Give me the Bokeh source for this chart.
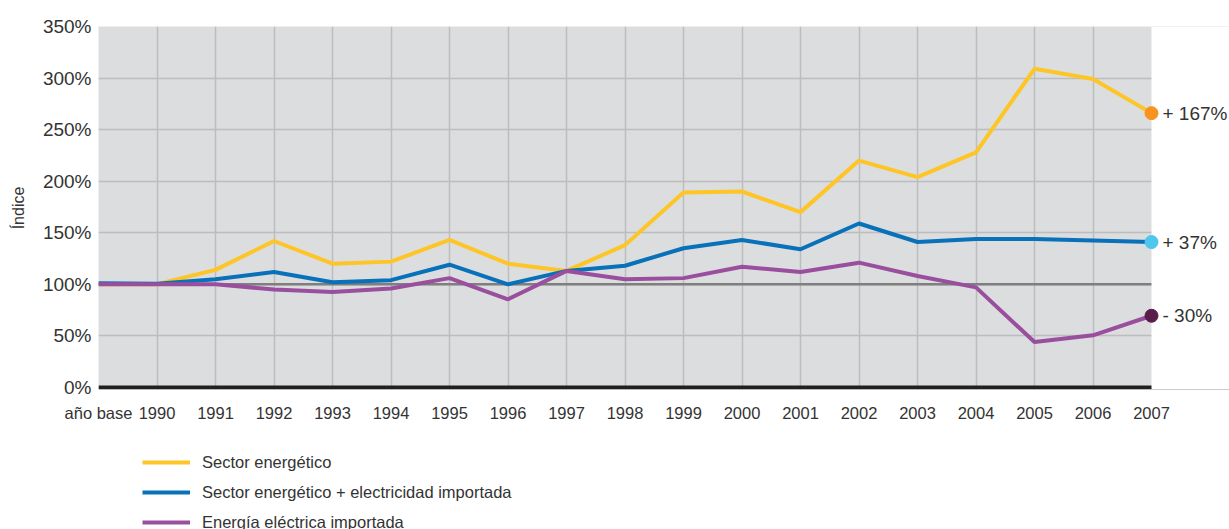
from bokeh.plotting import figure
from bokeh.layouts import column
from bokeh.models import (Range1d, FixedTicker, Span, Legend, LegendItem,
                          LabelSet, ColumnDataSource, BoxAnnotation)
from bokeh.core.properties import value
from bokeh.embed import file_html
from bokeh.resources import INLINE

# ---------------- data ----------------
years = ["año base", "1990", "1991", "1992", "1993", "1994", "1995", "1996",
         "1997", "1998", "1999", "2000", "2001", "2002", "2003", "2004",
         "2005", "2006", "2007"]
sector = [100, 100, 114, 142, 120, 122, 143, 120, 113, 138, 189, 190, 170,
          220, 204, 228, 309, 299, 266]
sector_import = [101, 100.5, 105, 112, 102, 104, 119, 100, 113, 118, 135,
                 143, 134, 159, 141, 144, 144, 142.5, 141]
electric = [100, 100, 100, 95, 92.5, 96, 106, 85.5, 113, 105, 106, 117, 112,
            121, 108, 97, 44, 50.5, 69.5]
y_ticks = [0, 50, 100, 150, 200, 250, 300, 350]
y_tick_labels = ["0%", "50%", "100%", "150%", "200%", "250%", "300%", "350%"]
series_names = ["Sector energético",
                "Sector energético + electricidad importada",
                "Energía eléctrica importada"]
end_labels = ["+ 167%", "+ 37%", "- 30%"]

line_colors = ["#FEC526", "#0871B9", "#9A4E9E"]
dot_colors = ["#F7931E", "#4FC6EE", "#5A1C4A"]
FONT = "Liberation Sans"
TXT = "#333333"

series = [sector, sector_import, electric]
x = list(range(len(years)))
last = len(years) - 1

# layout (pixels)
W = 1229
H1, H2 = 424, 105
LEFT, TOP, BOTTOM = 98, 26, 35
DATA_W = 1053                       # width of the grey chart area
frame_w = W - LEFT
x_end = last * frame_w / DATA_W     # extra room right of 2007 for labels

p = figure(width=W, height=H1, output_backend="svg", toolbar_location=None,
           x_range=Range1d(0, x_end), y_range=Range1d(-2, 350),
           min_border_left=LEFT, min_border_right=0, min_border_top=TOP,
           min_border_bottom=BOTTOM)
p.background_fill_color = "#DCDDDF"
p.border_fill_color = "white"
p.outline_line_color = None

# axes
p.xaxis.ticker = FixedTicker(ticks=x)
p.xaxis.major_label_overrides = {i: t for i, t in zip(x, years)}
p.yaxis.ticker = FixedTicker(ticks=y_ticks)
p.yaxis.major_label_overrides = {v: t for v, t in zip(y_ticks, y_tick_labels)}
for ax in (p.xaxis, p.yaxis):
    ax.axis_line_color = None
    ax.major_tick_line_color = None
    ax.minor_tick_line_color = None
    ax.major_label_text_font = FONT
    ax.major_label_text_color = TXT
p.xaxis.major_label_text_font_size = "16.5px"
p.yaxis.major_label_text_font_size = "19px"
p.xaxis.major_label_standoff = 8
p.yaxis.major_label_standoff = 1
p.yaxis.axis_label = "Índice"
p.yaxis.axis_label_text_font = FONT
p.yaxis.axis_label_text_font_size = "16px"
p.yaxis.axis_label_text_font_style = "normal"
p.yaxis.axis_label_text_color = TXT
p.yaxis.axis_label_standoff = 13

# grid
p.xgrid.ticker = FixedTicker(ticks=x[1:-1])
p.ygrid.ticker = FixedTicker(ticks=y_ticks[1:])
p.grid.grid_line_color = "#BCBDBF"
p.grid.grid_line_width = 1.5

# reference lines
p.add_layout(Span(location=100, dimension="width", line_color="#7F7F7F",
                  line_width=2.5, level="underlay"))
p.add_layout(Span(location=0, dimension="width", line_color="#231F20",
                  line_width=4, level="underlay"))
# white area right of the last year (for the end labels)
p.add_layout(BoxAnnotation(left=last, fill_color="white", fill_alpha=1,
                           line_color=None, level="underlay"))

# series
for ys, c in zip(series, line_colors):
    p.line(x, ys, line_color=c, line_width=4)

end_src = ColumnDataSource(dict(
    x=[last] * 3,
    y=[s[last] for s in series],
    c=dot_colors, t=end_labels))
p.scatter("x", "y", source=end_src, size=13, fill_color="c", line_color="c")
p.add_layout(LabelSet(x="x", y="y", text="t", source=end_src, x_offset=11,
                      text_baseline="middle", text_font=value(FONT),
                      text_font_size="19px", text_color=TXT))

# ---------- legend panel (same series, outside its visible range) ----------
p2 = figure(width=W, height=H2, output_backend="svg", toolbar_location=None,
            x_axis_type=None, y_axis_type=None,
            x_range=Range1d(0, 1), y_range=Range1d(1000, 1001),
            min_border=0)
p2.outline_line_color = None
p2.grid.visible = False
leg_renderers = [p2.line(x, ys, line_color=c, line_width=4)
                 for ys, c in zip(series, line_colors)]

legend = Legend(items=[LegendItem(label=n, renderers=[r])
                       for n, r in zip(series_names, leg_renderers)],
                location=(44, -3), orientation="vertical")
legend.margin = 0
legend.padding = 0
legend.border_line_color = None
legend.background_fill_alpha = 0
legend.glyph_width = 48
legend.glyph_height = 20
legend.label_height = 20
legend.spacing = 10
legend.label_standoff = 12
legend.label_text_font = FONT
legend.label_text_font_size = "16.5px"
legend.label_text_color = TXT
p2.add_layout(legend, "center")

open("out.html", "w").write(file_html(column(p, p2), INLINE))
